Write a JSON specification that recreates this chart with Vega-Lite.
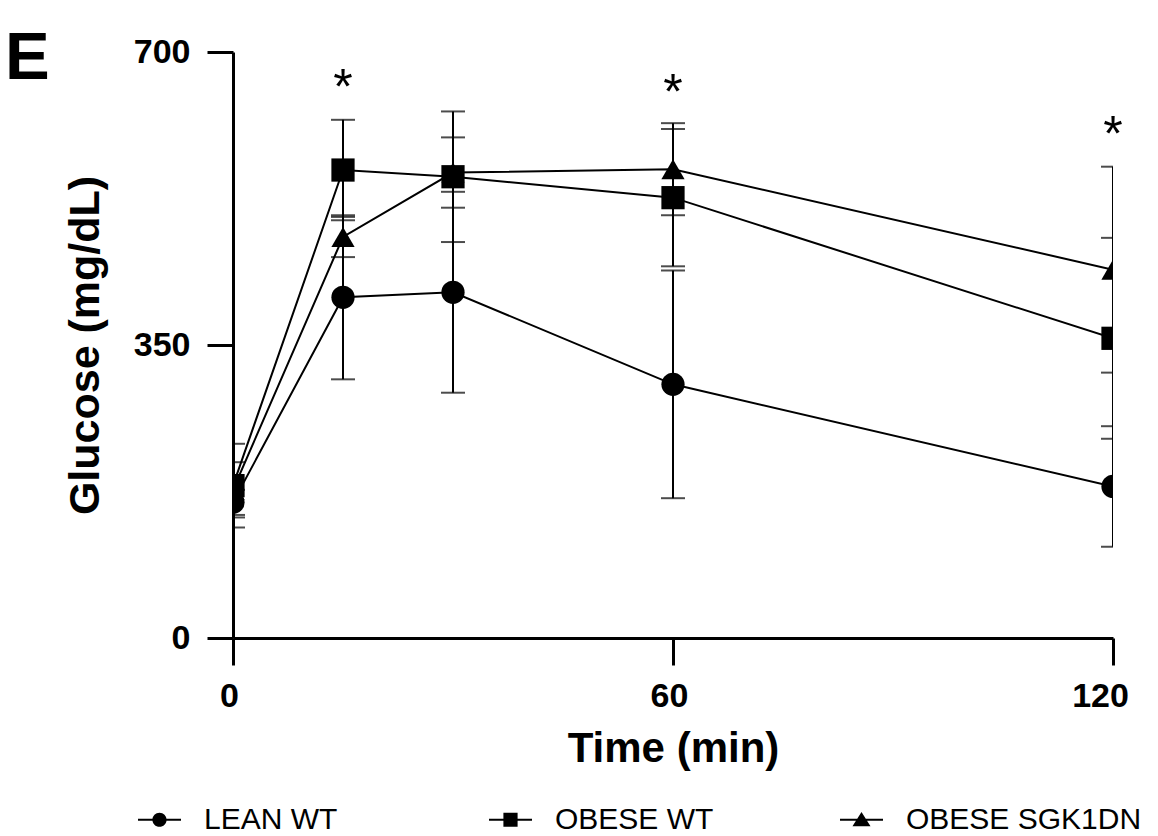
{
  "$schema": "https://vega.github.io/schema/vega-lite/v6.json",
  "autosize": {"type": "none"},
  "width": 880,
  "height": 586,
  "padding": {"left": 233, "top": 52, "right": 45, "bottom": 198},
  "background": "white",
  "title": {
    "text": "E",
    "anchor": "start",
    "frame": "group",
    "font": "Liberation Sans",
    "fontSize": 67,
    "fontWeight": "bold",
    "color": "black",
    "baseline": "alphabetic",
    "offset": 0,
    "dx": -228,
    "dy": 111
  },
  "data": {
    "values": [
      {"t": 0, "g": "LEAN WT", "m": 162, "sd": 15},
      {"t": 15, "g": "LEAN WT", "m": 407, "sd": 98},
      {"t": 30, "g": "LEAN WT", "m": 413, "sd": 120},
      {"t": 60, "g": "LEAN WT", "m": 303, "sd": 136},
      {"t": 120, "g": "LEAN WT", "m": 181, "sd": 72},
      {"t": 0, "g": "OBESE WT", "m": 182, "sd": 50},
      {"t": 15, "g": "OBESE WT", "m": 559, "sd": 60},
      {"t": 30, "g": "OBESE WT", "m": 551, "sd": 78},
      {"t": 60, "g": "OBESE WT", "m": 526, "sd": 82},
      {"t": 120, "g": "OBESE WT", "m": 358, "sd": 120},
      {"t": 0, "g": "OBESE SGK1DN", "m": 177, "sd": 33},
      {"t": 15, "g": "OBESE SGK1DN", "m": 479, "sd": 24},
      {"t": 30, "g": "OBESE SGK1DN", "m": 556, "sd": 42},
      {"t": 60, "g": "OBESE SGK1DN", "m": 560, "sd": 55},
      {"t": 120, "g": "OBESE SGK1DN", "m": 440, "sd": 123}
    ]
  },
  "layer": [
    {
      "mark": {"type": "line", "color": "black", "strokeWidth": 2, "clip": true},
      "encoding": {
        "x": {
          "field": "t", "type": "quantitative",
          "title": "Time (min)",
          "scale": {"domain": [0, 120], "nice": false, "zero": false},
          "axis": {
            "values": [0, 60, 120],
            "grid": false,
            "domainColor": "black", "domainWidth": 3,
            "tickColor": "black", "tickWidth": 3, "tickSize": 27,
            "labelFont": "Liberation Sans", "labelFontSize": 34, "labelFontWeight": "bold", "labelColor": "black",
            "labelPadding": 14, "labelFlush": false, "labelOverlap": false,
            "labelOffset": {"condition": {"test": "datum.value == 120", "value": -13}, "value": -4},
            "titleFont": "Liberation Sans", "titleFontSize": 42, "titleFontWeight": "bold", "titleColor": "black",
            "titleX": 440, "titleY": 123, "titleBaseline": "alphabetic", "titleAlign": "center"
          }
        },
        "y": {
          "field": "m", "type": "quantitative",
          "title": "Glucose (mg/dL)",
          "scale": {"domain": [0, 700], "nice": false},
          "axis": {
            "values": [0, 350, 700],
            "grid": false,
            "domainColor": "black", "domainWidth": 3,
            "tickColor": "black", "tickWidth": 3, "tickSize": 26,
            "labelFont": "Liberation Sans", "labelFontSize": 34, "labelFontWeight": "bold", "labelColor": "black",
            "labelPadding": 17, "labelFlush": false, "labelOverlap": false,
            "titleFont": "Liberation Sans", "titleFontSize": 43, "titleFontWeight": "bold", "titleColor": "black",
            "titleAngle": -90, "titleX": -135, "titleY": 293, "titleBaseline": "alphabetic", "titleAlign": "center"
          }
        },
        "detail": {"field": "g"}
      }
    },
    {
      "mark": {"type": "errorbar", "ticks": true, "size": 24, "thickness": 2, "color": "black", "clip": true},
      "encoding": {
        "x": {"field": "t", "type": "quantitative", "title": "Time (min)"},
        "y": {"field": "m", "type": "quantitative", "title": "Glucose (mg/dL)"},
        "yError": {"field": "sd"}
      }
    },
    {
      "mark": {"type": "point", "filled": true, "opacity": 1, "size": 540, "color": "black", "clip": true},
      "encoding": {
        "x": {"field": "t", "type": "quantitative", "title": "Time (min)"},
        "y": {"field": "m", "type": "quantitative", "title": "Glucose (mg/dL)"},
        "shape": {
          "field": "g", "type": "nominal",
          "scale": {"domain": ["LEAN WT", "OBESE WT", "OBESE SGK1DN"], "range": ["circle", "square", "triangle-up"]},
          "legend": null
        }
      }
    },
    {
      "transform": [{"filter": "datum.t < 0"}],
      "mark": {"type": "point", "filled": true, "opacity": 1, "size": 1849, "color": "black"},
      "encoding": {
        "shape": {
          "field": "g", "type": "nominal",
          "scale": {
            "domain": ["LEAN WT", "OBESE WT", "OBESE SGK1DN"],
            "range": [
              "M-1,-0.045H1V0.045H-1Z M0.33,0A0.33,0.33,0,1,1,-0.33,0A0.33,0.33,0,1,1,0.33,0Z",
              "M-1,-0.045H1V0.045H-1Z M-0.33,-0.33H0.33V0.33H-0.33Z",
              "M-1,-0.045H1V0.045H-1Z M0,-0.36L0.42,0.3H-0.42Z"
            ]
          },
          "legend": {
            "title": null,
            "orient": "none",
            "legendX": -95,
            "legendY": 746,
            "direction": "horizontal",
            "columns": 3,
            "gridAlign": "all",
            "columnPadding": 49,
            "padding": 0,
            "symbolSize": 1849,
            "symbolFillColor": "black",
            "symbolStrokeWidth": 0,
            "labelFont": "Liberation Sans",
            "labelFontSize": 30,
            "labelColor": "black",
            "labelOffset": 23,
            "labelLimit": 400
          }
        }
      }
    },
    {
      "data": {"values": [{"t": 15, "v": 667}, {"t": 60, "v": 661}, {"t": 120, "v": 610}]},
      "mark": {"type": "text", "text": "*", "font": "Liberation Sans", "fontSize": 50, "color": "black", "baseline": "alphabetic", "align": "center", "dy": 24},
      "encoding": {
        "x": {"field": "t", "type": "quantitative"},
        "y": {"field": "v", "type": "quantitative"}
      }
    }
  ],
  "resolve": {"scale": {"shape": "independent"}},
  "config": {"view": {"stroke": null}}
}
